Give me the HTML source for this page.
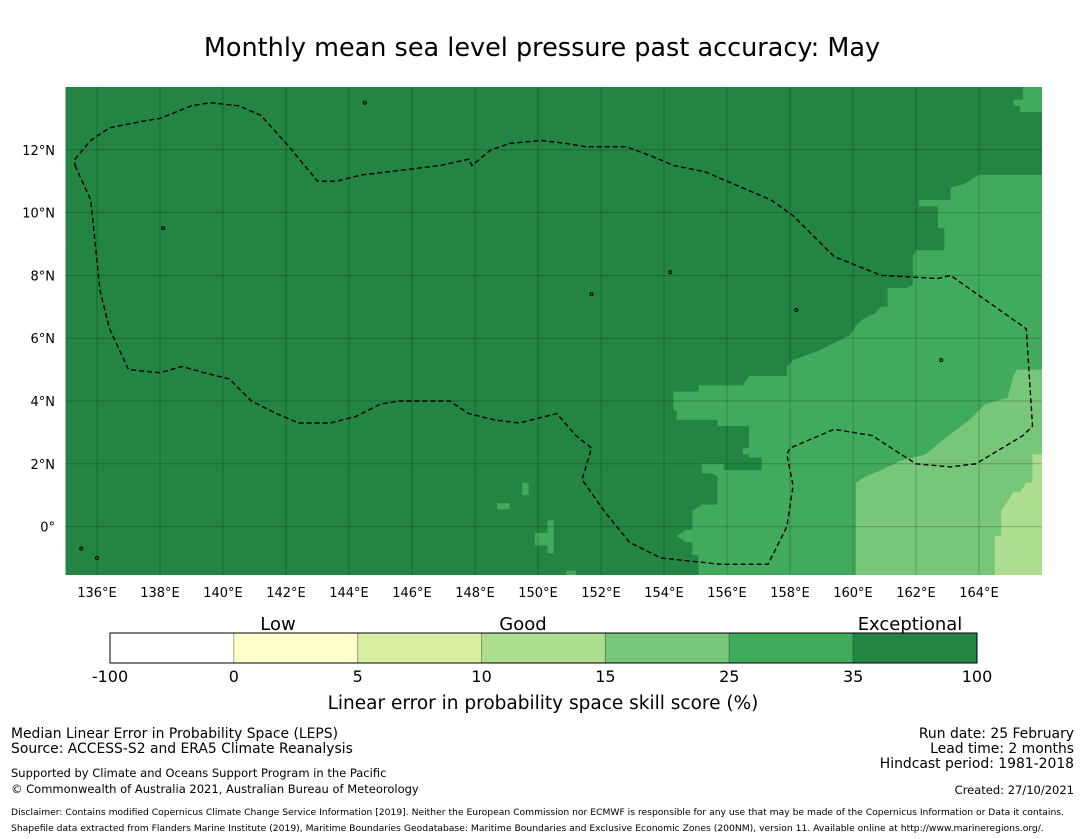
<!DOCTYPE html>
<html><head><meta charset="utf-8"><style>
body{margin:0;background:#fff;}
svg{display:block;font-family:"DejaVu Sans","Liberation Sans",sans-serif;}
</style></head><body>
<svg id="c" width="1085" height="839" viewBox="0 0 1085 839" xmlns="http://www.w3.org/2000/svg">
<text x="542" y="56" font-size="25.5" text-anchor="middle">Monthly mean sea level pressure past accuracy: May</text>
<defs><clipPath id="mc"><rect x="65.5" y="87" width="976.5" height="488"/></clipPath></defs>
<g id="map" clip-path="url(#mc)"></g>
<g id="ticks"></g>
<g id="cbar"></g>
<text x="11" y="738" font-size="13.9">Median Linear Error in Probability Space (LEPS)</text>
<text x="11" y="753" font-size="13.9">Source: ACCESS-S2 and ERA5 Climate Reanalysis</text>
<text x="11" y="777" font-size="11.5">Supported by Climate and Oceans Support Program in the Pacific</text>
<text x="11" y="793" font-size="11.5">© Commonwealth of Australia 2021, Australian Bureau of Meteorology</text>
<text x="1074" y="738" font-size="13.9" text-anchor="end">Run date: 25 February</text>
<text x="1074" y="753" font-size="13.9" text-anchor="end">Lead time: 2 months</text>
<text x="1074" y="768" font-size="13.9" text-anchor="end">Hindcast period: 1981-2018</text>
<text x="1074" y="794" font-size="11.5" text-anchor="end">Created: 27/10/2021</text>
<text x="11" y="815" font-size="9.2">Disclaimer: Contains modified Copernicus Climate Change Service Information [2019]. Neither the European Commission nor ECMWF is responsible for any use that may be made of the Copernicus Information or Data it contains.</text>
<text x="11" y="831" font-size="9.2">Shapefile data extracted from Flanders Marine Institute (2019), Maritime Boundaries Geodatabase: Maritime Boundaries and Exclusive Economic Zones (200NM), version 11. Available online at http://www.marineregions.org/.</text>
</svg>
<script>
const lonTicks=[136,138,140,142,144,146,148,150,152,154,156,158,160,162,164];
const latTicks=[0,2,4,6,8,10,12];
const cbEdges=["-100","0","5","10","15","25","35","100"];
const cbColors=["#ffffff","#ffffcc","#d9f0a3","#addd8e","#78c679","#41ab5d","#238443"];
const cbCats=["Low","Good","Exceptional"];
const medRegion=[[166,11.2],[164,11.2],[163.5,10.9],[163.1,10.8],[163.1,10.4],[162.1,10.4],[162.1,10.2],[162.7,10.2],[162.7,9.5],[162.9,9.5],[162.9,8.8],[162,8.8],[161.9,8.6],[161.9,7.7],[161.7,7.6],[161.1,7.6],[161.1,7.0],[160.9,7.0],[160.7,6.8],[160.3,6.6],[160.1,6.4],[159.9,6.1],[159.7,6.0],[159.3,5.8],[158.9,5.6],[158.1,5.3],[157.9,5.1],[157.9,4.8],[156.7,4.8],[156.5,4.5],[155.1,4.5],[155.1,4.3],[154.3,4.3],[154.3,3.7],[154.4,3.7],[154.4,3.4],[155.7,3.4],[155.7,3.2],[156.7,3.2],[156.7,2.5],[156.5,2.5],[156.5,2.3],[156.7,2.3],[156.7,2.2],[157.1,2.2],[157.1,1.8],[155.9,1.8],[155.9,2.0],[155.2,2.0],[155.2,1.7],[155.5,1.7],[155.7,1.6],[155.7,0.7],[155.2,0.7],[154.9,0.5],[154.9,-0.1],[154.7,-0.1],[154.4,-0.3],[154.7,-0.5],[154.9,-0.5],[154.9,-0.9],[155.1,-0.9],[155.1,-1.6],[166,-1.6]];
const medPatchNE=[[165.4,14.1],[166,14.1],[166,13.2],[165.3,13.2],[165.3,13.4],[165.1,13.4],[165.1,13.6],[165.4,13.6]];
const medRects=[[149.5,149.7,1.0,1.4],[148.7,149.1,0.55,0.75],[150.3,150.5,-0.85,0.2],[149.9,150.3,-0.6,-0.2],[150.9,151.2,-1.6,-1.4]];
const lightRegion=[[160.1,-1.6],[160.1,1.4],[160.4,1.6],[160.9,1.8],[161.5,2.1],[162.3,2.3],[162.9,2.8],[163.3,3.1],[163.7,3.4],[164.2,3.9],[164.9,4.1],[165.1,4.8],[165.2,5.0],[166,5.0],[166,-1.6]];
const lighterRegion=[[166,2.3],[165.7,2.3],[165.7,1.4],[165.5,1.4],[165.3,1.1],[165.1,1.1],[164.9,0.8],[164.7,0.5],[164.7,-0.3],[164.5,-0.3],[164.5,-1.6],[166,-1.6]];
const eez=[[135.3,11.5],[135.8,10.4],[136.1,7.5],[136.4,6.3],[137.0,5.0],[138.0,4.9],[138.7,5.1],[139.4,4.9],[140.2,4.7],[140.9,4.0],[141.7,3.6],[142.4,3.3],[143.4,3.3],[144.2,3.5],[145.0,3.9],[145.6,4.0],[147.2,4.0],[147.8,3.6],[148.6,3.4],[149.4,3.3],[150.2,3.5],[150.6,3.6],[151.2,2.9],[151.7,2.5],[151.4,1.5],[152.1,0.5],[152.9,-0.5],[153.9,-1.0],[155.8,-1.2],[157.3,-1.2],[157.9,0.0],[158.1,1.3],[157.9,2.3],[158.0,2.5],[159.4,3.1],[160.6,2.9],[162.0,2.0],[163.1,1.9],[163.9,2.0],[165.4,2.9],[165.7,3.2],[165.5,6.3],[163.1,8.0],[162.7,7.9],[160.9,8.0],[159.4,8.6],[158.1,9.9],[157.4,10.4],[156.0,11.0],[155.3,11.3],[154.3,11.5],[153.6,11.8],[152.8,12.1],[152.0,12.1],[151.5,12.1],[150.9,12.2],[150.1,12.3],[149.1,12.2],[148.5,12.0],[147.9,11.5],[147.8,11.7],[146.9,11.5],[144.4,11.2],[143.6,11.0],[143.0,11.0],[142.1,12.1],[141.2,13.1],[140.5,13.4],[139.6,13.5],[139.0,13.4],[138.0,13.0],[137.4,12.9],[136.4,12.7],[135.8,12.3],[135.3,11.7]];
const islands=[[144.5,13.5],[138.1,9.5],[151.7,7.4],[158.2,6.9],[154.2,8.1],[162.8,5.3],[135.5,-0.7],[136.0,-1.0]];

const NS="http://www.w3.org/2000/svg";
const X=lon=>65.5+(lon-135)*31.5;
const Y=lat=>87+(14-lat)*31.4;
function mk(tag,attrs,parent){const e=document.createElementNS(NS,tag);for(const k in attrs)e.setAttribute(k,attrs[k]);parent.appendChild(e);return e;}
const map=document.getElementById('map');
const bg=mk('rect',{x:65.5,y:87,width:976.5,height:488,fill:'#238443'},map);


const pts=a=>a.map(p=>X(p[0]).toFixed(1)+','+Y(p[1]).toFixed(1)).join(' ');
const regs=[[medRegion,'#41ab5d','region-25-35'],[medPatchNE,'#41ab5d','region-25-35-ne'],[lightRegion,'#78c679','region-15-25'],[lighterRegion,'#addd8e','region-10-15']];
regs.forEach(r=>{const e=mk('polygon',{points:pts(r[0]),fill:r[1]},map);

});
medRects.forEach(r=>{const e=mk('rect',{x:X(r[0]),y:Y(r[3]),width:X(r[1])-X(r[0]),height:Y(r[2])-Y(r[3]),fill:'#41ab5d'},map);

});
lonTicks.forEach(l=>{const e=mk('line',{x1:X(l),x2:X(l),y1:87,y2:575,stroke:'rgba(0,0,0,0.22)','stroke-width':1},map);

});
latTicks.forEach(l=>{const e=mk('line',{x1:65.5,x2:1042,y1:Y(l),y2:Y(l),stroke:'rgba(0,0,0,0.22)','stroke-width':1},map);

});
islands.forEach(p=>{const e=mk('circle',{cx:X(p[0]),cy:Y(p[1]),r:1.5,fill:'none',stroke:'#000','stroke-width':1},map);

});
const ez=mk('polygon',{points:pts(eez),fill:'none',stroke:'#000','stroke-width':1.4,'stroke-dasharray':'5,3'},map);


const ticks=document.getElementById('ticks');
lonTicks.forEach(l=>{const t=mk('text',{x:X(l),y:597,'font-size':13,'text-anchor':'middle'},ticks);t.textContent=l+'°E';

});
latTicks.forEach(l=>{const t=mk('text',{x:55,y:Y(l)+5,'font-size':13,'text-anchor':'end'},ticks);t.textContent=l===0?'0°':l+'°N';

});
const cb=document.getElementById('cbar');
const cx0=110,cw=(977-110)/cbColors.length;
cbColors.forEach((c,i)=>{const e=mk('rect',{x:cx0+i*cw,y:633,width:cw,height:30,fill:c,stroke:'rgba(0,0,0,0.25)','stroke-width':1},cb);

});
const fr=mk('rect',{x:cx0,y:633,width:867,height:30,fill:'none',stroke:'#000','stroke-width':1},cb);


cbEdges.forEach((v,i)=>{const t=mk('text',{x:cx0+i*cw,y:682,'font-size':16,'text-anchor':'middle'},cb);t.textContent=v;

});
const catX=[278,523,910];
cbCats.forEach((v,i)=>{const t=mk('text',{x:catX[i],y:630,'font-size':18,'text-anchor':'middle'},cb);t.textContent=v;

});
const ct=mk('text',{x:543,y:709,'font-size':18.5,'text-anchor':'middle'},cb);ct.textContent='Linear error in probability space skill score (%)';


</script>
</body></html>
